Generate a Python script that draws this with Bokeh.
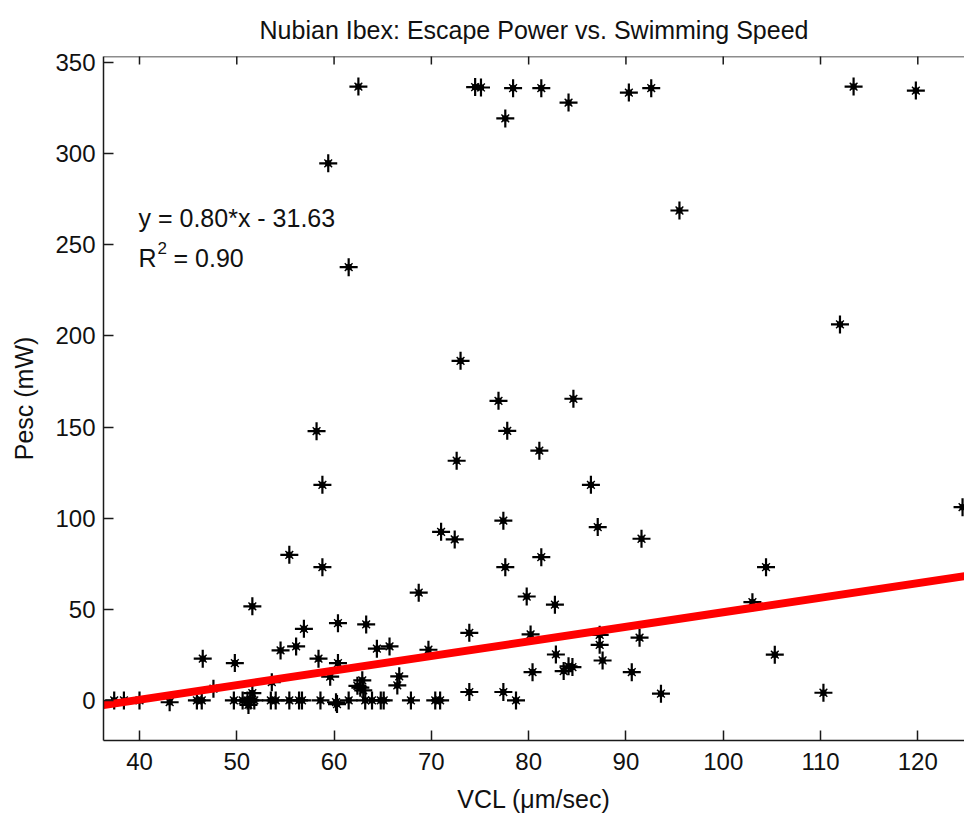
import math
from bokeh.plotting import figure
from bokeh.models import Range1d, FixedTicker, ColumnDataSource, Span
from bokeh.core.properties import value
from bokeh.embed import file_html
from bokeh.resources import INLINE

# ---- data ----
vcl = [
    62.5, 59.4, 61.5, 74.5, 75.1, 78.4, 81.3, 84.1, 77.6, 90.3, 92.6, 95.5,
    113.4, 119.8, 112.0, 124.6,
    58.2, 58.8, 73.0, 76.9, 84.6, 77.8, 81.1, 72.6, 86.4, 77.4, 87.1, 71.0,
    72.4, 91.6, 81.3, 77.6, 68.7, 79.8, 82.7, 104.4, 103.0, 105.3, 110.3,
    55.4, 58.8, 51.6, 60.4, 63.3, 56.9, 73.9, 80.2, 56.1, 54.5, 64.4, 65.7,
    69.7, 87.3, 87.3, 87.6, 91.4, 82.8, 83.6, 84.1, 84.5, 80.4, 90.6, 66.7,
    66.5, 73.9, 77.4, 78.7, 93.6, 67.9, 70.4, 70.9, 46.5, 49.8, 58.4, 60.4,
    59.6, 47.6, 53.6, 62.4, 62.9, 63.0, 62.7, 51.6,
    37.4, 38.4, 40.0, 43.1, 45.9, 46.4, 49.7, 50.6, 51.1, 51.4, 51.8, 53.5,
    54.0, 55.4, 56.4, 56.7, 58.6, 60.2, 61.5, 63.2, 63.9, 64.8, 65.1, 51.2,
    60.3,
]
pesc = [
    336.8, 294.7, 237.7, 336.5, 336.3, 335.9, 335.9, 328.0, 319.3, 333.5, 335.9, 268.8,
    336.8, 334.6, 206.3, 106.0,
    147.7, 118.3, 186.3, 164.4, 165.5, 147.9, 137.0, 131.5, 118.3, 98.6, 95.1, 92.5,
    88.3, 88.7, 78.6, 73.1, 59.1, 57.0, 52.5, 73.1, 53.9, 25.1, 4.2,
    79.9, 73.1, 51.6, 42.4, 41.7, 39.3, 37.1, 36.2, 29.6, 27.4, 28.4, 29.6,
    27.8, 36.0, 30.5, 21.9, 34.4, 25.2, 16.1, 18.7, 18.3, 15.5, 15.5, 13.2,
    8.2, 4.6, 4.6, 0.0, 3.7, 0.0, 0.0, 0.0, 22.9, 20.5, 22.9, 20.5,
    13.0, 6.4, 10.0, 8.0, 11.0, 5.5, 7.0, 4.0,
    0.0, 0.0, 0.0, -1.0, 0.0, 0.0, 0.0, 0.0, 0.0, 0.0, 0.0, 0.0,
    0.0, 0.0, 0.0, 0.0, 0.0, -1.0, 0.0, 0.0, 0.0, 0.0, 0.0, -2.5,
    -2.0,
]
fit_slope = 0.80
fit_intercept = -31.63
fit_label = "y = 0.80*x - 31.63"
r2_value_label = "= 0.90"
x_ticks = [40, 50, 60, 70, 80, 90, 100, 110, 120]
y_ticks = [0, 50, 100, 150, 200, 250, 300, 350]
x_lim = (36.3, 124.8)
y_lim = (-22.0, 353.3)

FONT = "Liberation Sans"
INK = "#111111"

p = figure(
    width=964, height=818, output_backend="svg", toolbar_location=None,
    x_range=Range1d(*x_lim), y_range=Range1d(*y_lim),
    min_border_left=103, min_border_right=0, min_border_top=56, min_border_bottom=78,
    title="Nubian Ibex: Escape Power vs. Swimming Speed",
    background_fill_color="white", border_fill_color="white",
)
p.grid.visible = False
p.outline_line_color = None

p.title.text_font = FONT
p.title.text_font_size = "25px"
p.title.text_font_style = "normal"
p.title.text_color = INK
p.title.align = "center"
p.title.standoff = 26


def style_axis(ax, tick_in):
    ax.major_tick_in = tick_in
    ax.major_tick_out = 0
    ax.minor_tick_in = 0
    ax.minor_tick_out = 0
    ax.axis_line_color = "#1a1a1a"
    ax.axis_line_width = 1.5
    ax.major_tick_line_color = "#1a1a1a"
    ax.major_tick_line_width = 1.5
    ax.major_label_text_font = FONT
    ax.major_label_text_font_size = "24px"
    ax.major_label_text_color = INK
    ax.axis_label_text_font = FONT
    ax.axis_label_text_font_size = "25px"
    ax.axis_label_text_font_style = "normal"
    ax.axis_label_text_color = INK


xa = p.xaxis[0]
xa.ticker = FixedTicker(ticks=x_ticks)
xa.axis_label = "VCL (\u03bcm/sec)"
style_axis(xa, 10)
xa.major_label_standoff = 12
xa.axis_label_standoff = 12

ya = p.yaxis[0]
ya.ticker = FixedTicker(ticks=y_ticks)
ya.axis_label = "Pesc (mW)"
style_axis(ya, 10)
ya.major_label_standoff = 8
ya.axis_label_standoff = 14

# top box edge with inward ticks (no labels)
p.add_layout(Span(location=y_lim[1], dimension="width", line_color="#1a1a1a", line_width=1.5))
p.scatter(x=x_ticks, y=[y_lim[1]] * len(x_ticks), marker="dash", angle=math.pi / 2,
          size=16, line_color="#1a1a1a", line_width=1.5)

src = ColumnDataSource(dict(x=vcl, y=pesc))
p.scatter("x", "y", source=src, marker="cross", size=18, line_color="black", line_width=2.2)
p.scatter("x", "y", source=src, marker="x", size=11, line_color="black", line_width=1.4)
p.scatter("x", "y", source=src, marker="square", size=5, line_color="black", fill_color="black")

fx = list(x_lim)
fy = [fit_slope * v + fit_intercept for v in fx]
p.line(fx, fy, line_color="#ff0000", line_width=8)

ann_x = 39.9
p.text(x=[ann_x], y=[264.5], text=[fit_label], text_font=value(FONT), text_font_size="25px",
       text_color=INK, text_baseline="alphabetic", text_align="left")
p.text(x=[ann_x], y=[242.5], text=["R"], text_font=value(FONT), text_font_size="25px",
       text_color=INK, text_baseline="alphabetic", text_align="left")
p.text(x=[ann_x], y=[242.5], text=["2"], text_font=value(FONT), text_font_size="17px",
       text_color=INK, text_baseline="alphabetic", text_align="left",
       x_offset=19, y_offset=-10)
p.text(x=[ann_x], y=[242.5], text=[r2_value_label], text_font=value(FONT), text_font_size="25px",
       text_color=INK, text_baseline="alphabetic", text_align="left", x_offset=35)

open("out.html", "w").write(file_html(p, INLINE))
